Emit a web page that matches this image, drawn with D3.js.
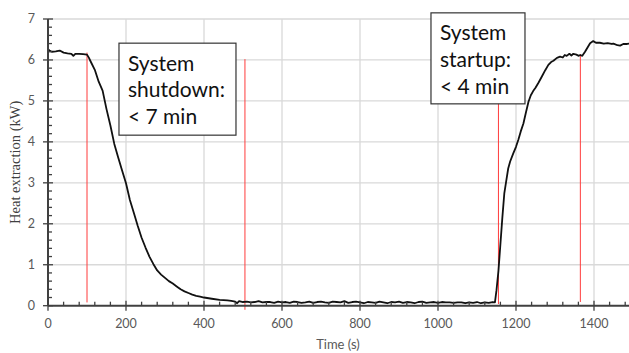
<!DOCTYPE html>
<html>
<head>
<meta charset="utf-8">
<script src="https://cdn.jsdelivr.net/npm/d3@7"></script>
<style>
  html, body { margin: 0; padding: 0; background: #fff; }
  svg { display: block; }
</style>
</head>
<body>
<svg id="chart" width="629" height="353"></svg>
<script>
// ---- data ----
const timeS = [
  0, 5, 10, 20, 30, 40, 50, 60, 65, 70, 80, 90, 100, 105, 110, 120, 130, 140, 150, 160,
  170, 180, 190, 200, 210, 220, 230, 240, 250, 260, 270, 280, 290, 300, 310, 320, 330, 340,
  350, 360, 370, 380, 390, 400, 420, 440, 460, 470, 480, 485, 490,
  500, 510, 520, 530, 540, 550, 560, 570, 580, 590, 600, 610, 620, 630, 640, 650, 660, 670,
  680, 690, 700, 710, 720, 730, 740, 750, 760, 770, 780, 790, 800, 810, 820, 830, 840, 850,
  860, 870, 880, 890, 900, 910, 920, 930, 940, 950, 960, 970, 980, 990, 1000, 1010, 1020,
  1030, 1040, 1050, 1060, 1070, 1080, 1090, 1100, 1110, 1120, 1130, 1140, 1146,
  1150, 1155, 1160, 1165, 1170, 1175, 1180, 1185, 1193, 1200, 1206, 1212, 1219, 1225, 1232,
  1238, 1244, 1250, 1258, 1266, 1275, 1283, 1290, 1296, 1305, 1313, 1320, 1325, 1330, 1337,
  1342, 1347, 1355, 1360, 1365, 1370, 1377, 1385, 1390, 1398, 1405, 1415, 1425, 1435, 1445,
  1450, 1460, 1467, 1475, 1485, 1495
];
const heatKW = [
  6.26, 6.22, 6.20, 6.21, 6.23, 6.18, 6.16, 6.15, 6.10, 6.15, 6.15, 6.14, 6.13, 6.05, 5.95, 5.76, 5.47, 5.25, 4.80, 4.40,
  3.95, 3.62, 3.30, 2.99, 2.58, 2.27, 1.95, 1.66, 1.42, 1.20, 1.02, 0.86, 0.76, 0.68, 0.60, 0.54, 0.47, 0.40,
  0.35, 0.31, 0.27, 0.24, 0.22, 0.20, 0.17, 0.14, 0.13, 0.12, 0.10, 0.06, 0.11,
  0.09, 0.10, 0.08, 0.09, 0.11, 0.08, 0.09, 0.09, 0.07, 0.10, 0.08, 0.09, 0.07, 0.10, 0.09, 0.07, 0.08, 0.10,
  0.07, 0.09, 0.10, 0.08, 0.07, 0.10, 0.09, 0.08, 0.11, 0.07, 0.09, 0.10, 0.08, 0.06, 0.09, 0.08, 0.07, 0.10,
  0.08, 0.06, 0.09, 0.08, 0.10, 0.07, 0.09, 0.08, 0.06, 0.09, 0.10, 0.07, 0.08, 0.09, 0.07, 0.09, 0.08,
  0.08, 0.07, 0.08, 0.08, 0.06, 0.08, 0.07, 0.09, 0.06, 0.08, 0.07, 0.09, 0.08,
  0.38, 0.85, 1.50, 2.15, 2.74, 3.05, 3.35, 3.52, 3.72, 3.88, 4.05, 4.25, 4.45, 4.70, 4.98,
  5.14, 5.24, 5.32, 5.45, 5.59, 5.75, 5.88, 5.95, 5.98, 6.05, 6.08, 6.06, 6.12, 6.10, 6.15,
  6.11, 6.15, 6.13, 6.10, 6.12, 6.10, 6.20, 6.33, 6.41, 6.46, 6.42, 6.42, 6.40, 6.41, 6.39,
  6.40, 6.36, 6.35, 6.39, 6.39, 6.41
];
const markerTimes  = [100, 505, 1155, 1365];
const markerTop    = [6.18, 6.02, 6.00, 6.14];
const markerBottom = [0.08, -0.10, 0.04, 0.09];

const xTicks = [0, 200, 400, 600, 800, 1000, 1200, 1400];
const yTicks = [0, 1, 2, 3, 4, 5, 6, 7];
const xTitle = "Time (s)";
const yTitle = "Heat extraction (kW)";

const noteLines = [
  ["System", "shutdown:", "< 7 min"],
  ["System", "startup:", "< 4 min"]
];
const noteTime = [182, 982];   // left edge of box (s)
const noteTopKW = [6.41, 7.15]; // top edge of box (kW)

// ---- layout ----
const svg = d3.select("#chart");
const x = d3.scaleLinear().domain([0, 1500]).range([48, 633]);
const y = d3.scaleLinear().domain([0, 7]).range([305.7, 19]);

const axisColor = "#404040";
const labelColor = "#595959";

// gridlines
const grid = svg.append("g");
grid.selectAll("line.h").data(yTicks.filter(d => d > 0)).join("line")
  .attr("x1", x(0)).attr("x2", 629)
  .attr("y1", d => y(d)).attr("y2", d => y(d))
  .attr("stroke", "#d9d9d9").attr("stroke-width", 1.3);
grid.selectAll("line.v").data(xTicks.filter(d => d > 0)).join("line")
  .attr("x1", d => x(d)).attr("x2", d => x(d))
  .attr("y1", y(7)).attr("y2", y(0))
  .attr("stroke", "#d9d9d9").attr("stroke-width", 1.3);

// red marker lines
svg.append("g").selectAll("line").data(markerTimes).join("line")
  .attr("x1", d => x(d)).attr("x2", d => x(d))
  .attr("y1", (d, i) => y(markerTop[i])).attr("y2", (d, i) => y(markerBottom[i]))
  .attr("stroke", "#ff3b3b").attr("stroke-width", 1);

// data line
const pts = timeS.map((t, i) => [t, heatKW[i]]);
svg.append("path").datum(pts)
  .attr("fill", "none").attr("stroke", "#111").attr("stroke-width", 1.8)
  .attr("stroke-linejoin", "round")
  .attr("d", d3.line().x(d => x(d[0])).y(d => y(d[1])));

// axes
const xAxisG = svg.append("g").attr("transform", `translate(0,${y(0)})`);
xAxisG.append("line").attr("x1", x(0)).attr("x2", 629).attr("y1", 0).attr("y2", 0)
  .attr("stroke", axisColor).attr("stroke-width", 2);
const xMinor = d3.range(40, 1500, 40).filter(v => v % 200 !== 0);
xAxisG.selectAll("line.minor").data(xMinor).join("line")
  .attr("x1", d => x(d)).attr("x2", d => x(d)).attr("y1", -4).attr("y2", 0)
  .attr("stroke", axisColor).attr("stroke-width", 1.3);
xAxisG.selectAll("line.major").data(xTicks).join("line")
  .attr("x1", d => x(d)).attr("x2", d => x(d)).attr("y1", -5).attr("y2", 5)
  .attr("stroke", axisColor).attr("stroke-width", 1.3);
xAxisG.selectAll("text").data(xTicks).join("text")
  .attr("x", d => x(d)).attr("y", 22)
  .attr("text-anchor", "middle")
  .attr("font-family", "Lato, 'Open Sans', sans-serif").attr("font-size", 12.5)
  .attr("fill", labelColor).text(d => d);

const yAxisG = svg.append("g").attr("transform", `translate(${x(0)},0)`);
yAxisG.append("line").attr("x1", 0).attr("x2", 0).attr("y1", y(7)).attr("y2", y(0))
  .attr("stroke", axisColor).attr("stroke-width", 2);
const yMinor = d3.range(0.2, 7, 0.2).filter(v => Math.abs(v - Math.round(v)) > 0.01);
yAxisG.selectAll("line.minor").data(yMinor).join("line")
  .attr("x1", 0).attr("x2", 4).attr("y1", d => y(d)).attr("y2", d => y(d))
  .attr("stroke", axisColor).attr("stroke-width", 1.3);
yAxisG.selectAll("line.major").data(yTicks).join("line")
  .attr("x1", -5).attr("x2", 5).attr("y1", d => y(d)).attr("y2", d => y(d))
  .attr("stroke", axisColor).attr("stroke-width", 1.3);
yAxisG.selectAll("text").data(yTicks).join("text")
  .attr("x", -13).attr("y", d => y(d)).attr("dy", "0.35em")
  .attr("text-anchor", "end")
  .attr("font-family", "Lato, 'Open Sans', sans-serif").attr("font-size", 12.5)
  .attr("fill", labelColor).text(d => d);

// axis titles
svg.append("text").attr("x", 338).attr("y", 349)
  .attr("text-anchor", "middle")
  .attr("font-family", "Lato, 'Open Sans', sans-serif").attr("font-size", 13)
  .attr("fill", labelColor).text(xTitle);
svg.append("text")
  .attr("transform", `translate(20,${(y(0) + y(7)) / 2}) rotate(-90)`)
  .attr("text-anchor", "middle")
  .attr("font-family", "'Liberation Serif', 'Times New Roman', serif").attr("font-size", 14.5)
  .attr("fill", "#404040").text(yTitle);

// annotation boxes
const boxW = [117, 94], boxH = [92, 91];
noteLines.forEach((lines, i) => {
  const bx = x(noteTime[i]), by = y(noteTopKW[i]);
  const g = svg.append("g");
  g.append("rect").attr("x", bx).attr("y", by).attr("width", boxW[i]).attr("height", boxH[i])
    .attr("fill", "#fff").attr("stroke", "#333").attr("stroke-width", 1.2);
  lines.forEach((ln, j) => {
    g.append("text").attr("x", bx + 9).attr("y", by + 27.5 + j * 26.7)
      .attr("font-family", "Lato, 'Open Sans', sans-serif").attr("font-size", 21)
      .attr("fill", "#111").text(ln);
  });
});
</script>
</body>
</html>
